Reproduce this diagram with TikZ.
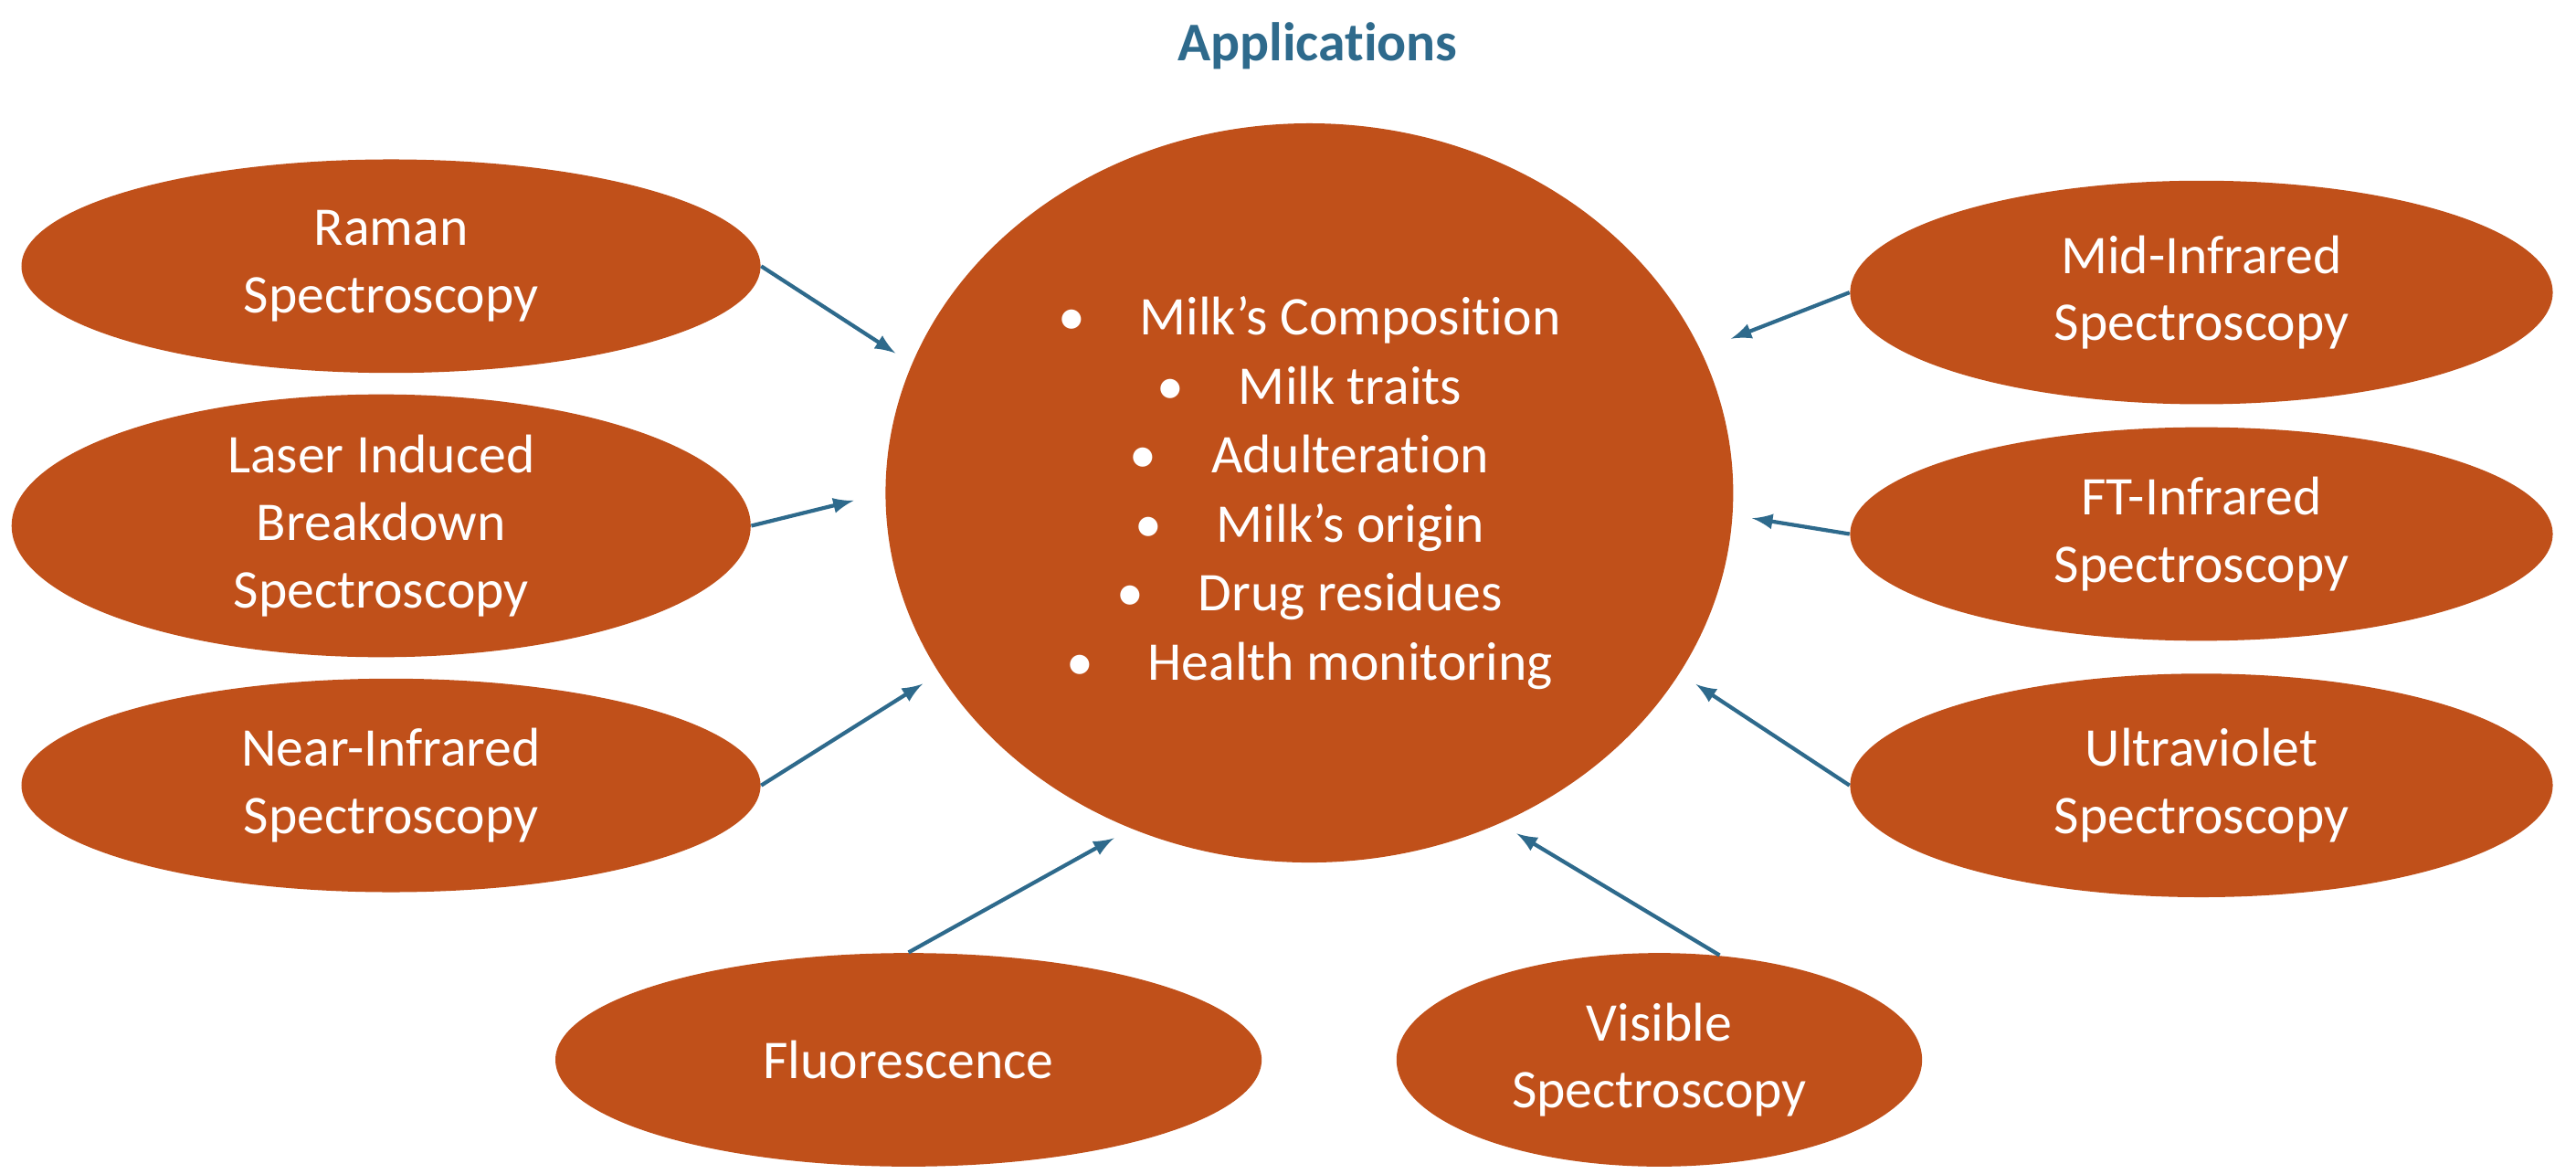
\documentclass[tikz,border=0pt]{standalone}
\usepackage{fontspec}
\setmainfont{Carlito}[Ligatures=NoCommon]
\usepackage{tikz}
\usetikzlibrary{shapes.geometric}
\definecolor{methodcolor}{HTML}{C0501A}
\definecolor{arrowcolor}{HTML}{2E6A8C}

\begin{document}
\begin{tikzpicture}[x=0.018cm, y=-0.018cm,
    method/.style={ellipse, fill=methodcolor, text=white, inner sep=0pt,
        align=center, font=\fontsize{17}{21}\selectfont,
        minimum width=7.7cm, minimum height=2.34cm},
    feed/.style={draw=arrowcolor, line width=1.2pt, -latex}]

    \useasboundingbox (0, 0) rectangle (1568, 714);

    \node (title) at (802, 28) [text=arrowcolor, font=\fontsize{17}{21}\selectfont\bfseries] {Applications};

    \node (app) at (797, 300) [ellipse, fill=methodcolor, text=white, inner sep=0pt,
        minimum width=9.29cm, minimum height=8.1cm, align=center,
        font=\fontsize{17}{21.5}\selectfont]
        {\textbullet\quad Milk’s Composition\\ \textbullet\quad Milk traits\\
         \textbullet\quad Adulteration\\ \textbullet\quad Milk’s origin\\
         \textbullet\quad Drug residues\\ \textbullet\quad Health monitoring};

    \node (raman) at (238, 162) [method, minimum width=8.1cm] {Raman\\Spectroscopy};
    \node (libs) at (232, 320) [method, minimum width=8.1cm, minimum height=2.88cm] {Laser Induced\\Breakdown\\Spectroscopy};
    \node (nir) at (238, 478) [method, minimum width=8.1cm] {Near-Infrared\\Spectroscopy};
    \node (fluor) at (553, 645) [method, minimum width=7.74cm] {Fluorescence};
    \node (vis) at (1010, 645) [method, minimum width=5.76cm] {Visible\\Spectroscopy};
    \node (mir) at (1340, 178) [method, minimum height=2.45cm] {Mid-Infrared\\Spectroscopy};
    \node (ftir) at (1340, 325) [method] {FT-Infrared\\Spectroscopy};
    \node (uv) at (1340, 478) [method, minimum height=2.45cm] {Ultraviolet\\Spectroscopy};

    % methods point to the applications
    \draw [feed, shorten >=6pt] (raman.east) -- (app.162);
    \draw [feed, shorten >=10pt] (libs.east) -- (app.180);
    \draw [feed, shorten >=6pt] (nir.east) -- (app.206);
    \draw [feed, shorten >=6pt] (fluor.north) -- (app.242);
    \draw [feed, shorten >=6pt] (vis.60) -- (app.300);
    \draw [feed, shorten >=10pt] (mir.west) -- (app.20);
    \draw [feed, shorten >=6pt] (ftir.west) -- (app.357);
    \draw [feed, shorten >=6pt] (uv.west) -- (app.334);

\end{tikzpicture}
\end{document}
